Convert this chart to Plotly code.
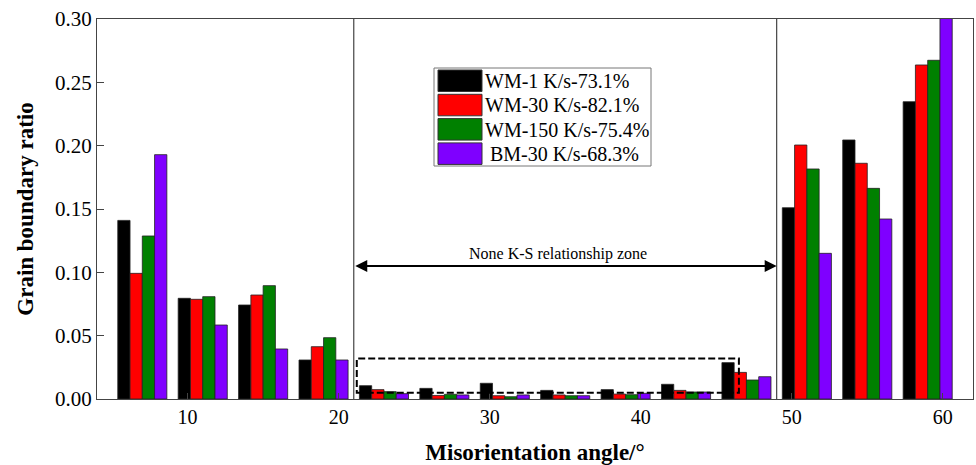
import plotly.graph_objects as go

# ---- data ----
angles = [7, 11, 15, 19, 23, 27, 31, 35, 39, 43, 47, 51, 55, 59]
series_names = ["WM-1 K/s-73.1%", "WM-30 K/s-82.1%", "WM-150 K/s-75.4%", "BM-30 K/s-68.3%"]
wm1 = [0.141, 0.0795, 0.0742, 0.0308, 0.0105, 0.0084, 0.0124, 0.0068, 0.0074, 0.0116, 0.0287, 0.151, 0.2045, 0.2347]
wm30 = [0.0992, 0.0787, 0.0821, 0.0413, 0.0074, 0.0028, 0.0026, 0.0032, 0.0039, 0.0068, 0.021, 0.2005, 0.1861, 0.2637]
wm150 = [0.1287, 0.0808, 0.0895, 0.0484, 0.0058, 0.0037, 0.0018, 0.0026, 0.0034, 0.0055, 0.015, 0.1816, 0.1663, 0.2674]
bm30 = [0.1929, 0.0584, 0.0395, 0.0308, 0.0042, 0.0032, 0.0032, 0.0026, 0.0045, 0.0055, 0.0176, 0.115, 0.1421, 0.302]
colors = ["#000000", "#FF0000", "#008000", "#7F00FF"]
x_ticks = [10, 20, 30, 40, 50, 60]
y_ticks = [0.00, 0.05, 0.10, 0.15, 0.20, 0.25, 0.30]
zone_bounds = [21, 49]
zone_arrow_y = 0.105
zone_label = "None K-S relationship zone"
box_x = [21.2, 46.5]
box_y = [0.005, 0.032]

FONT = "Liberation Serif, Times New Roman, serif"
W, H = 976, 465
ML, MR, MT, MB = 97, 3, 19, 66
PW, PH = W - ML - MR, H - MT - MB


def px_x(p):
    return (p - ML) / PW


def px_y(p):
    return (H - MB - p) / PH


fig = go.Figure()
for name, vals, col in zip(series_names, [wm1, wm30, wm150, bm30], colors):
    fig.add_trace(go.Bar(
        x=angles, y=vals, name=name,
        marker=dict(color=col, line=dict(color="#222222", width=0.8)),
        showlegend=False,
    ))

shapes = []
# zone boundaries
for xb in zone_bounds:
    shapes.append(dict(type="line", xref="x", yref="y", x0=xb, x1=xb, y0=0, y1=0.30,
                       line=dict(color="#444444", width=1.2)))
# dashed box
shapes.append(dict(type="rect", xref="x", yref="y", x0=box_x[0], x1=box_x[1], y0=box_y[0], y1=box_y[1],
                   line=dict(color="black", width=2, dash="7px,3px"), layer="above"))

annotations = []
# double arrow
annotations.append(dict(x=zone_bounds[1], y=zone_arrow_y, ax=zone_bounds[0], ay=zone_arrow_y,
                        xref="x", yref="y", axref="x", ayref="y", text="",
                        showarrow=True, arrowhead=2, arrowside="end+start", arrowsize=1.2,
                        arrowwidth=2, arrowcolor="black", standoff=0, startstandoff=0))
annotations.append(dict(x=34.5, y=zone_arrow_y, xref="x", yref="y", text=zone_label,
                        showarrow=False, yanchor="bottom", yshift=1,
                        font=dict(family=FONT, size=16, color="black")))

# manual legend
shapes.append(dict(type="rect", xref="paper", yref="paper",
                   x0=px_x(434), x1=px_x(651), y0=px_y(166), y1=px_y(68),
                   line=dict(color="#777777", width=1), fillcolor="white", layer="above"))
row_top = 70
pitch = 24.3
for i, (name, col) in enumerate(zip(series_names, colors)):
    t = row_top + i * pitch
    shapes.append(dict(type="rect", xref="paper", yref="paper",
                       x0=px_x(438), x1=px_x(482), y0=px_y(t + 21.5), y1=px_y(t),
                       line=dict(color="#333333", width=1), fillcolor=col, layer="above"))
    tx = 483 if name.startswith("WM") else 488
    annotations.append(dict(x=px_x(tx), y=px_y(t + 11), xref="paper", yref="paper",
                            text=name, showarrow=False, xanchor="left", yanchor="middle",
                            font=dict(family=FONT, size=20, color="black")))

fig.update_layout(
    width=W, height=H,
    margin=dict(l=ML, r=MR, t=MT, b=MB),
    plot_bgcolor="white", paper_bgcolor="white",
    barmode="group", bargap=0.1875, bargroupgap=0,
    font=dict(family=FONT, size=20, color="black"),
    shapes=shapes, annotations=annotations,
    showlegend=False,
)
fig.update_xaxes(
    range=[4, 62], tickvals=x_ticks, ticks="inside", ticklen=6, tickcolor="#444444",
    showline=True, linecolor="#444444", linewidth=1.2, mirror=True, showgrid=False, zeroline=False,
    tickfont=dict(family=FONT, size=20),
    title=dict(text="<b>Misorientation angle/°</b>", font=dict(family=FONT, size=23), standoff=16),
)
fig.update_yaxes(
    range=[0, 0.30], tickvals=y_ticks, tickformat=".2f", ticks="inside", ticklen=7, tickcolor="#444444",
    showline=True, linecolor="#444444", linewidth=1.2, mirror=True, showgrid=False, zeroline=False,
    tickfont=dict(family=FONT, size=21),
    title=dict(text="<b>Grain boundary ratio</b>", font=dict(family=FONT, size=23), standoff=14),
)

fig.write_html("out.html")
